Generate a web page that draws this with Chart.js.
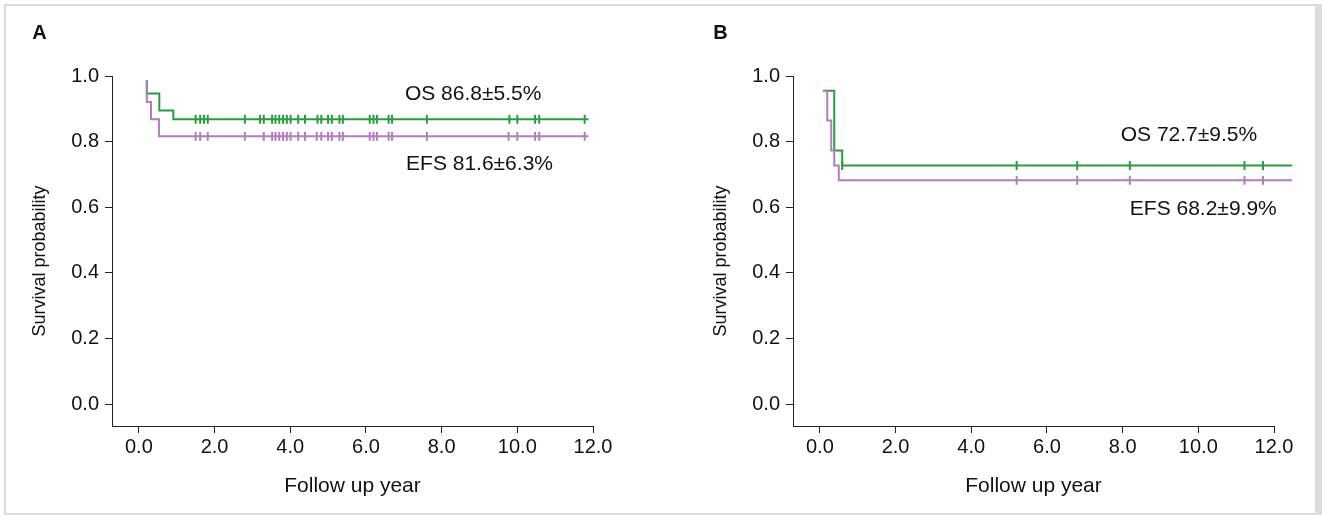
<!DOCTYPE html>
<html lang="en">

<head>
    <meta charset="UTF-8">
    <script src="https://cdn.jsdelivr.net/npm/chart.js"></script>
    <title>Survival curves</title>
    <style>
        body { margin: 0; background: #fff; }
        #frame { position: absolute; left: 4px; top: 4px; width: 1309px; height: 507px; border: 2px solid #dcdcdc; border-right-width: 9px; }
        canvas { position: absolute; top: 0; }
        #chartA { left: 0; }
        #chartB { left: 681px; }
    </style>
</head>

<body>
    <div id="frame"></div>
    <canvas id="chartA" width="661" height="519"></canvas>
    <canvas id="chartB" width="641" height="519"></canvas>
    <script>

        // tick labels
        const xTicks = [0, 2, 4, 6, 8, 10, 12];
        const yTicks = [0, 0.2, 0.4, 0.6, 0.8, 1.0];

        // panel A: step curves (time, survival) and censored times
        const osA_time = [0.21, 0.21, 0.54, 0.91, 11.88];
        const osA_surv = [0.987, 0.947, 0.895, 0.868, 0.868];
        const efsA_time = [0.21, 0.21, 0.32, 0.53, 11.88];
        const efsA_surv = [0.987, 0.921, 0.868, 0.816, 0.816];
        const osA_censor = [1.50, 1.62, 1.72, 1.82, 2.80, 3.20, 3.30, 3.52, 3.61, 3.71, 3.81, 3.91, 4.01, 4.21, 4.39,
            4.72, 4.82, 5.00, 5.10, 5.30, 5.39, 6.10, 6.20, 6.29, 6.60, 6.69, 7.61, 9.79, 10.00, 10.47, 10.58, 11.78];
        const efsA_censor = [1.50, 1.62, 1.82, 2.80, 3.30, 3.52, 3.61, 3.71, 3.81, 3.91, 4.01, 4.21, 4.39,
            4.70, 4.82, 5.00, 5.10, 5.30, 5.39, 6.10, 6.20, 6.29, 6.60, 6.69, 7.61, 9.77, 10.00, 10.47, 10.58, 11.78];

        // panel B
        const osB_time = [0.08, 0.38, 0.59, 12.48];
        const osB_surv = [0.955, 0.773, 0.727, 0.727];
        const efsB_time = [0.08, 0.195, 0.30, 0.38, 0.50, 12.48];
        const efsB_surv = [0.955, 0.864, 0.773, 0.727, 0.682, 0.682];
        const osB_censor = [0.59, 5.20, 6.80, 8.19, 11.22, 11.71];
        const efsB_censor = [5.20, 6.80, 8.19, 11.22, 11.71];

        const GREEN = 'rgb(40,156,62)';
        const PURPLE = 'rgb(178,124,190)';
        const FONT = "'Liberation Sans', Arial, sans-serif";

        function pts(times, survs) {
            return times.map((t, i) => ({ x: t, y: survs[i] }));
        }

        // survival value at time t (step lookup)
        function survAt(times, survs, t) {
            let s = survs[0];
            times.forEach((tt, i) => { if (tt <= t) s = survs[i]; });
            return s;
        }

        function curve(times, survs, color) {
            return {
                data: pts(times, survs),
                showLine: true,
                stepped: 'before',
                borderColor: color,
                borderWidth: 2,
                pointRadius: 0,
                clip: false
            };
        }

        function censor(cens, times, survs, color) {
            return {
                data: cens.map(t => ({ x: t, y: survAt(times, survs, t) })),
                showLine: false,
                pointStyle: 'line',
                rotation: 90,
                radius: 4.5,
                borderWidth: 2,
                borderColor: color,
                clip: false
            };
        }

        const textPlugin = {
            id: 'kmText',
            afterDraw: (chart, args, opts) => {
                const ctx = chart.ctx;
                const xs = chart.scales.x, ys = chart.scales.y;
                ctx.save();
                ctx.fillStyle = '#111';
                ctx.textBaseline = 'middle';
                // panel letter
                ctx.font = 'bold 20px ' + FONT;
                ctx.textAlign = 'center';
                ctx.fillText(opts.letter, 39.5, 33);
                // y axis title
                ctx.save();
                ctx.translate(40, 261);
                ctx.rotate(-Math.PI / 2);
                ctx.font = '18px ' + FONT;
                ctx.fillText('Survival probability', 0, 0);
                ctx.restore();
                // OS / EFS notes
                ctx.font = '21px ' + FONT;
                ctx.textAlign = 'left';
                opts.notes.forEach(n => {
                    ctx.fillText(n.text, xs.getPixelForValue(n.x), ys.getPixelForValue(n.y));
                });
                ctx.restore();
            }
        };

        function makeConfig(datasets, letter, notes, padRight) {
            return {
                type: 'scatter',
                data: { datasets: datasets },
                options: {
                    responsive: false,
                    animation: false,
                    devicePixelRatio: 1,
                    layout: { padding: { left: 0, right: padRight, top: 76, bottom: 0 } },
                    scales: {
                        x: {
                            type: 'linear',
                            min: -0.71,
                            max: 12,
                            afterBuildTicks: s => { s.ticks = xTicks.map(v => ({ value: v })); },
                            afterFit: s => { s.height = 93; },
                            ticks: {
                                callback: v => v.toFixed(1),
                                color: '#111',
                                padding: 2,
                                font: { family: FONT, size: 20 }
                            },
                            grid: { drawOnChartArea: false, tickLength: 7, color: '#222' },
                            border: { display: true, color: '#222', width: 1 },
                            title: {
                                display: true,
                                text: 'Follow up year',
                                color: '#111',
                                padding: { top: 0, bottom: 20 },
                                font: { family: FONT, size: 21 }
                            }
                        },
                        y: {
                            min: -0.067,
                            max: 1.0,
                            afterBuildTicks: s => { s.ticks = yTicks.map(v => ({ value: v })); },
                            afterFit: s => { s.width = 112; },
                            ticks: {
                                callback: v => v.toFixed(1),
                                color: '#111',
                                padding: 6,
                                font: { family: FONT, size: 20 }
                            },
                            grid: { drawOnChartArea: false, tickLength: 7, color: '#222' },
                            border: { display: true, color: '#222', width: 1 }
                        }
                    },
                    plugins: {
                        legend: { display: false },
                        tooltip: { enabled: false },
                        kmText: { letter: letter, notes: notes }
                    }
                },
                plugins: [textPlugin]
            };
        }

        new Chart(document.getElementById('chartA'), makeConfig([
            curve(efsA_time, efsA_surv, PURPLE),
            curve(osA_time, osA_surv, GREEN),
            censor(efsA_censor, efsA_time, efsA_surv, PURPLE),
            censor(osA_censor, osA_time, osA_surv, GREEN)
        ], 'A', [
            { text: 'OS 86.8±5.5%', x: 7.03, y: 0.944 },
            { text: 'EFS 81.6±6.3%', x: 7.06, y: 0.730 }
        ], 68));

        new Chart(document.getElementById('chartB'), makeConfig([
            curve(efsB_time, efsB_surv, PURPLE),
            curve(osB_time, osB_surv, GREEN),
            censor(efsB_censor, efsB_time, efsB_surv, PURPLE),
            censor(osB_censor, osB_time, osB_surv, GREEN)
        ], 'B', [
            { text: 'OS 72.7±9.5%', x: 7.95, y: 0.819 },
            { text: 'EFS 68.2±9.9%', x: 8.19, y: 0.593 }
        ], 48));
    </script>
</body>

</html>
